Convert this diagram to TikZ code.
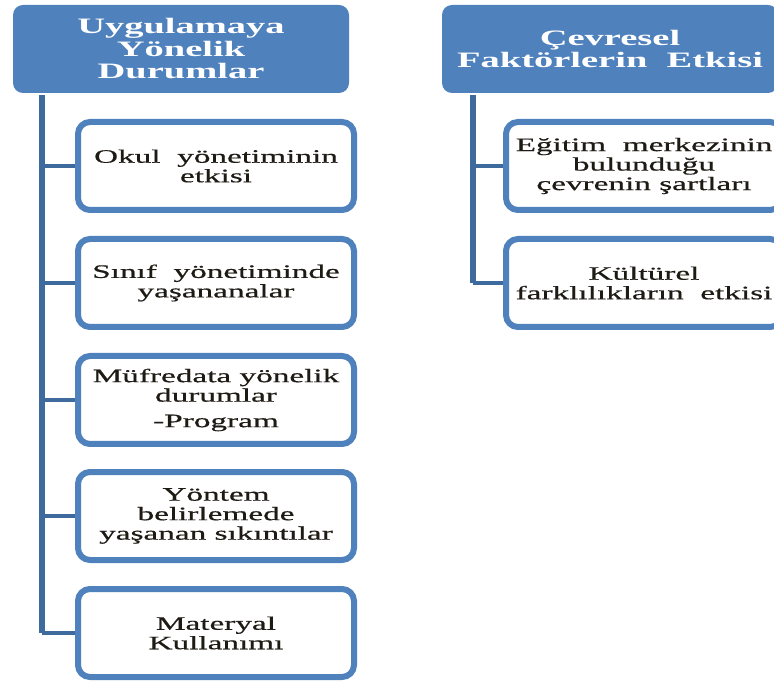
\documentclass[tikz,border=0pt]{standalone}
\usepackage{fontspec}
\setmainfont{Liberation Serif}[FakeStretch=1.75]
\newfontfamily\itemfont{Liberation Serif}[FakeStretch=1.75,FakeBold=0.6]
\definecolor{hdrblue}{HTML}{4F81BD}
\definecolor{spineblue}{HTML}{3F6A9E}
\definecolor{itemtext}{HTML}{1E1A14}

\begin{document}
\begin{tikzpicture}[x=1pt,y=-1pt,
  head/.style={draw=none,fill=hdrblue,rounded corners=10pt,minimum width=336pt,minimum height=88pt,
    align=center,text=white,font=\fontsize{22}{22.5}\selectfont\bfseries},
  item/.style={draw=hdrblue,line width=6pt,fill=white,rounded corners=12pt,minimum width=276pt,minimum height=88pt,
    align=center,text=itemtext,font=\itemfont\fontsize{19}{19.5}\selectfont},
  spine/.style={draw=spineblue,line width=6pt},
  branch/.style={draw=spineblue,line width=4pt}]
\useasboundingbox (0,0) rectangle (774,684);
\node[head] at (181,49) (L) {Uygulamaya\\Yönelik\\Durumlar};
\node[head] at (610,49) (R) {Çevresel\\Faktörlerin~ Etkisi};
\node[item] at (216,166) (l1) {Okul~ yönetiminin\\etkisi};
\node[item] at (216,283) (l2) {Sınıf~ yönetiminde\\yaşananalar};
\node[item] at (216,400) (l3) {Müfredata yönelik\\durumlar\\[6pt]-Program};
\node[item] at (216,516) (l4) {Yöntem\\belirlemede\\yaşanan sıkıntılar};
\node[item] at (216,633) (l5) {Materyal\\Kullanımı};
\node[item] at (644,166) (r1) {Eğitim~ merkezinin\\bulunduğu\\çevrenin şartları};
\node[item] at (644,283) (r2) {Kültürel\\farklılıkların~ etkisi};
\coordinate (ls) at (42,95);
\coordinate (rs) at (473,95);
\draw[spine] (ls) -- (ls |- l5.west);
\draw[spine] (rs) -- (rs |- r2.west);
\foreach \b in {l1,l2,l3,l4,l5}
  \draw[branch] (\b.west -| ls) -- (\b.west);
\foreach \b in {r1,r2}
  \draw[branch] (\b.west -| rs) -- (\b.west);
\end{tikzpicture}
\end{document}
